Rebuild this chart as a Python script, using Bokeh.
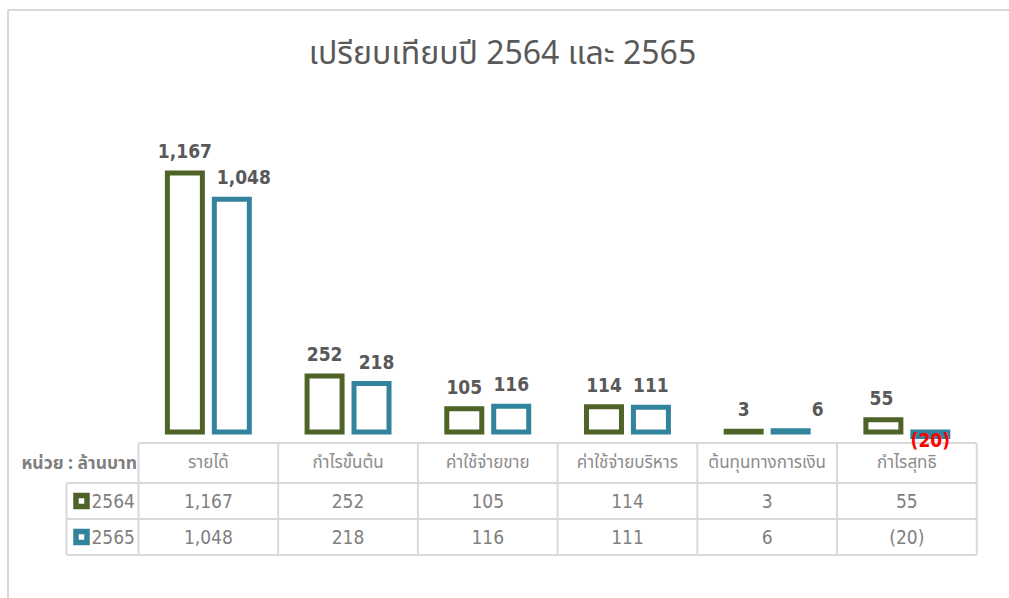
from bokeh.plotting import figure
from bokeh.models import Range1d, ColumnDataSource
from bokeh.core.properties import value
from bokeh.embed import file_html
from bokeh.resources import INLINE

# ---------------- data ----------------
categories = ["รายได้", "กำไรขั้นต้น", "ค่าใช้จ่ายขาย", "ค่าใช้จ่ายบริหาร", "ต้นทุนทางการเงิน", "กำไรสุทธิ"]
series_names = ["2564", "2565"]
values_2564 = [1167, 252, 105, 114, 3, 55]
values_2565 = [1048, 218, 116, 111, 6, -20]
title_text = "เปรียบเทียบปี 2564 และ 2565"
unit_text = "หน่วย : ล้านบาท"

# ---------------- layout / style ----------------
W, H = 1009, 598
CELL_PX = 139.7          # width of one category column
TABLE_LEFT_PX = 138      # left edge of first category column
ZERO_PX = 431.5          # screen y of value 0
PX_PER_UNIT = 0.222      # screen px per million baht
ROW_PX = 36              # table data row height
HEADER_PX = 40
TABLE_BOTTOM_PX = 554.5
LEGEND_COL_PX = 72
BAR_W_PX = 35
BAR_OFF = 0.168
COLORS = ["#4F6228", "#31849B"]
GRID = "#D9D9D9"
LABEL_NUDGE_PX = [[0, 0, 0, 0, 0, -2], [12, 5, 0, 0, 27, 0]]

NARROW = value("'DejaVu Sans Condensed', sans-serif")
THAI = value("'Noto Sans Thai', 'Noto Sans', sans-serif")


def fmt(v):
    s = f"{abs(v):,}"
    return f"({s})" if v < 0 else s


x0 = -0.5 - TABLE_LEFT_PX / CELL_PX
x1 = x0 + W / CELL_PX
y0 = -(H - ZERO_PX) / PX_PER_UNIT
y1 = ZERO_PX / PX_PER_UNIT


def xp(px):
    return x0 + px / CELL_PX


def yp(py):
    return y1 - py / PX_PER_UNIT


p = figure(width=W, height=H, x_range=Range1d(x0, x1), y_range=Range1d(y0, y1),
           output_backend="svg", toolbar_location=None, min_border=0,
           background_fill_color="white", border_fill_color="white")
p.axis.visible = False
p.grid.visible = False
p.outline_line_color = None

# table y range in row units (0 = table bottom)
t0 = -(H - TABLE_BOTTOM_PX) / ROW_PX
t1 = TABLE_BOTTOM_PX / ROW_PX
p.extra_y_ranges = {"tbl": Range1d(t0, t1)}
hdr_top = 2 + HEADER_PX / ROW_PX
n = len(categories)

# chart frame border (top & left)
p.segment(x0=[xp(7), xp(7.5)], y0=[yp(9.5), yp(9)], x1=[x1, xp(7.5)], y1=[yp(9.5), y0],
          line_color=GRID, line_width=2)

# title
p.text(x=[xp(502)], y=[yp(53)], text=[title_text], text_align="center", text_baseline="middle",
       text_font=THAI, text_font_size="32px", text_color="#595959")

# table grid
leg_left = -0.5 - LEGEND_COL_PX / CELL_PX
hx0 = [-0.5, leg_left, leg_left, leg_left]
hx1 = [n - 0.5] * 4
hy = [hdr_top, 2, 1, 0]
p.segment(x0=hx0, y0=hy, x1=hx1, y1=hy, y_range_name="tbl", line_color=GRID, line_width=2)
vx = [i - 0.5 for i in range(n + 1)]
p.segment(x0=vx, y0=[0] * len(vx), x1=vx, y1=[hdr_top] * len(vx), y_range_name="tbl",
          line_color=GRID, line_width=2)
p.segment(x0=[leg_left], y0=[0], x1=[leg_left], y1=[2], y_range_name="tbl",
          line_color=GRID, line_width=2)

# header texts
hmid = (2 + hdr_top) / 2
p.text(x=list(range(n)), y=[hmid] * n, text=categories, y_range_name="tbl",
       text_align="center", text_baseline="middle", text_font=THAI,
       text_font_size="17px", text_color="#8C8C8C")
p.text(x=[-0.5 - 1.5 / CELL_PX], y=[hmid], text=[unit_text], y_range_name="tbl",
       text_align="right", text_baseline="middle", text_font=THAI, text_font_style="bold",
       text_font_size="17.5px", text_color="#7F7F7F")

# rows
for r, (vals, col, name) in enumerate(zip([values_2564, values_2565], COLORS, series_names)):
    ymid = 1.5 - r
    p.text(x=list(range(n)), y=[ymid] * n, text=[fmt(v) for v in vals], y_range_name="tbl",
           text_align="center", text_baseline="middle", text_font=NARROW,
           text_font_size="19px", text_color="#7F7F7F")
    p.scatter(x=[leg_left + 15 / CELL_PX], y=[ymid], marker="square", size=11,
              fill_color="white", line_color=col, line_width=5.5, line_join="miter",
              y_range_name="tbl")
    p.text(x=[leg_left + 25 / CELL_PX], y=[ymid], text=[name], y_range_name="tbl",
           text_align="left", text_baseline="middle", text_font=NARROW,
           text_font_size="19px", text_color="#7F7F7F")

# bars and data labels
bar_w = BAR_W_PX / CELL_PX
for s, (vals, col, off) in enumerate(zip([values_2564, values_2565], COLORS, [-BAR_OFF, BAR_OFF])):
    xs = [i + off for i in range(n)]
    src = ColumnDataSource(dict(x=xs, top=vals))
    p.vbar(x="x", top="top", bottom=0, width=bar_w, source=src, fill_color="white",
           line_color=col, line_width=5, line_join="miter")
    pos = [(i, v) for i, v in enumerate(vals) if v >= 0]
    neg = [(i, v) for i, v in enumerate(vals) if v < 0]
    if pos:
        p.text(x=[xs[i] for i, _ in pos], y=[v for _, v in pos], text=[fmt(v) for _, v in pos],
               x_offset=[LABEL_NUDGE_PX[s][i] for i, _ in pos], y_offset=-15,
               text_align="center", text_baseline="bottom", text_font=NARROW,
               text_font_style="bold", text_font_size="19px", text_color="#595959")
    if neg:
        p.text(x=[xs[i] for i, _ in neg], y=[v for _, v in neg], text=[fmt(v) for _, v in neg],
               x_offset=[LABEL_NUDGE_PX[s][i] for i, _ in neg], y_offset=4,
               text_align="center", text_baseline="middle", text_font=NARROW,
               text_font_style="bold", text_font_size="19px", text_color="#FF0000")

open("out.html", "w").write(file_html(p, INLINE))
